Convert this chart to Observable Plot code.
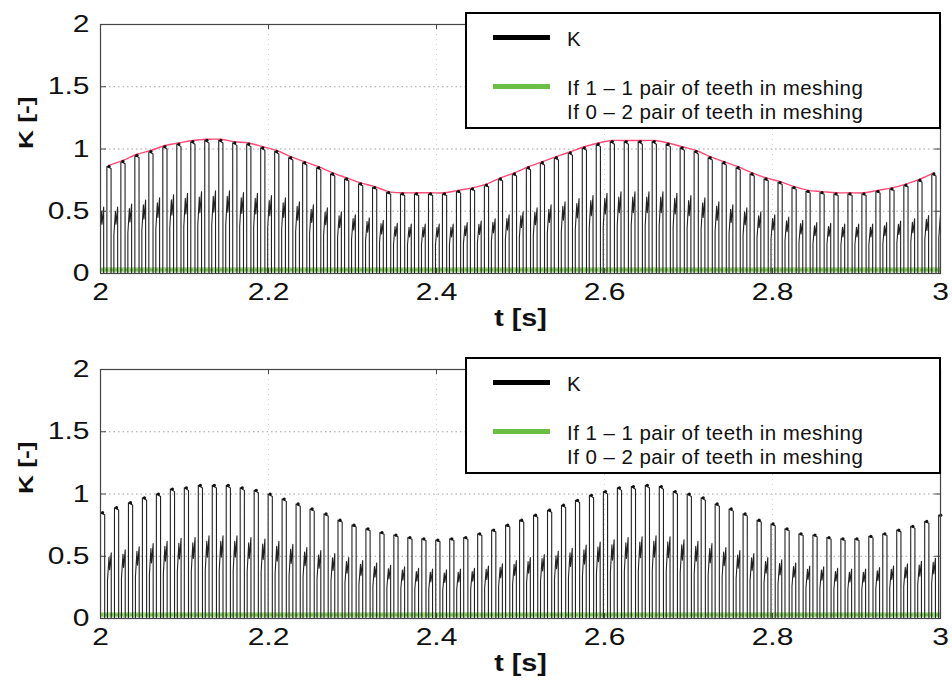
<!DOCTYPE html>
<html><head><meta charset="utf-8">
<script src="https://cdn.jsdelivr.net/npm/d3@7"></script>
<script src="https://cdn.jsdelivr.net/npm/@observablehq/plot@0.6"></script>
<style>
body{margin:0;background:#fff;font-family:"Liberation Sans",Arial,sans-serif;}
#wrap{position:relative;width:952px;height:689px;overflow:hidden;background:#fff;}
.panel{position:absolute;left:0;}
.legend{position:absolute;left:465px;width:472px;height:113px;border:2.5px solid #000;background:#fff;}
.bar{position:absolute;left:26px;width:57px;height:5px;}
.ltxt{position:absolute;left:100px;font-size:20.5px;letter-spacing:0.45px;line-height:normal;white-space:nowrap;color:#111;}
</style></head>
<body><div id="wrap"></div>
<script>
// ---- data ----
const xTicks = [2, 2.2, 2.4, 2.6, 2.8, 3];
const yTicks = [0, 0.5, 1, 1.5, 2];
const legendLabels = ["K", "If 1 \u2013 1 pair of teeth in meshing", "If 0 \u2013 2 pair of teeth in meshing"];

// top panel: peak of every tooth-mesh pulse
const topStart = 2.0076;      // first rising edge [s]
const topPeriod = 0.016645;   // mesh period [s]
const topPeaks = [
  0.86,0.90,0.95,0.98,1.02,1.04,1.06,1.07,1.07,1.05,
  1.04,1.01,0.98,0.93,0.89,0.85,0.80,0.76,0.72,0.69,
  0.65,0.64,0.64,0.64,0.64,0.66,0.68,0.71,0.76,0.80,
  0.85,0.89,0.93,0.97,1.01,1.04,1.06,1.06,1.06,1.06,
  1.04,1.01,0.98,0.93,0.89,0.85,0.80,0.76,0.73,0.69,
  0.66,0.65,0.64,0.64,0.64,0.66,0.68,0.71,0.75,0.80
];

// bottom panel
const bottomStart = 2.0;
const bottomPeriod = 0.01663;
const bottomPeaks = [
  0.85,0.89,0.93,0.97,1.00,1.04,1.05,1.07,1.07,1.07,
  1.05,1.03,1.00,0.96,0.92,0.88,0.84,0.79,0.75,0.72,
  0.69,0.67,0.65,0.64,0.63,0.64,0.65,0.68,0.71,0.75,
  0.79,0.83,0.87,0.91,0.95,0.99,1.02,1.05,1.06,1.07,
  1.06,1.02,1.00,0.97,0.92,0.88,0.84,0.79,0.76,0.72,
  0.68,0.67,0.65,0.64,0.64,0.66,0.68,0.71,0.74,0.78,0.83
];

// one mesh cycle: [phase fraction, level relative to the pulse peak]
const toothShape = [
  [0.00,0],[0.00,1],[0.30,0.98],[0.30,0],[0.50,0],[0.50,0.36],
  [0.61,0.58],[0.65,0.46],[0.77,0.62],[0.77,0]
];
const peakPhase = 0.15;
const flagLevel = 0.03;   // meshing indicator (green) level

// ---- build ----
function cycles(peaks, t0, period) {
  const pts = [];
  for (let i = -1; i <= peaks.length; i++) {
    const p = peaks[Math.max(0, Math.min(peaks.length - 1, i))];
    for (const [f, r] of toothShape) pts.push({t: t0 + (i + f) * period, k: r * p});
  }
  return pts;
}
function peakPoints(peaks, t0, period) {
  return peaks.map((v, i) => ({t: t0 + (i + peakPhase) * period, k: v}));
}
const fmt = d => `${d}`;

function panel(peaks, t0, period, envelope) {
  const pts = cycles(peaks, t0, period);
  const pk = peakPoints(peaks, t0, period);
  const marks = [
    Plot.gridY(yTicks.slice(1, -1), {stroke: "#a0a0a0", strokeOpacity: 1, strokeDasharray: "1.5,3"}),
    Plot.gridX(xTicks.slice(1, -1), {stroke: "#d0d0d0", strokeOpacity: 1, strokeDasharray: "1,4"}),
    Plot.ruleY([flagLevel], {stroke: "#a5db86", strokeWidth: 5}),
    Plot.ruleY([flagLevel], {stroke: "#6cbf45", strokeWidth: 2, strokeDasharray: "3,2"}),
    Plot.line(pts, {x: "t", y: "k", stroke: "#222", strokeWidth: 1.1, clip: true}),
  ];
  if (envelope) marks.push(Plot.line(pk, {x: "t", y: "k", stroke: "#ff4a78", strokeWidth: 1.4, curve: "catmull-rom", dy: -1}));
  marks.push(
    Plot.dot(pk, {x: "t", y: "k", r: 1.6, fill: "#111", stroke: null}),
    Plot.ruleX(xTicks, {y1: 0, y2: 0.04, stroke: "#444"}),
    Plot.ruleX(xTicks, {y1: 2, y2: 1.96, stroke: "#444"}),
    Plot.ruleY(yTicks, {x1: 2, x2: 2.007, stroke: "#444"}),
    Plot.ruleY(yTicks, {x1: 3, x2: 2.993, stroke: "#444"}),
    Plot.frame({stroke: "#444", strokeWidth: 1.2}),
    Plot.axisX({ticks: xTicks, tickSize: 0, tickPadding: 9, fontSize: 24, label: null, tickFormat: fmt}),
    Plot.axisY({ticks: yTicks, tickSize: 0, tickPadding: 11, fontSize: 24, label: null, tickFormat: fmt}),
    Plot.text(["t [s]"], {text: d => d, frameAnchor: "bottom", dy: 52, fontWeight: "bold", fontSize: 23}),
    Plot.text(["K [-]"], {text: d => d, frameAnchor: "left", dx: -74, rotate: -90, fontWeight: "bold", fontSize: 21})
  );
  return Plot.plot({
    width: 952, height: 344,
    marginLeft: 100, marginRight: 12, marginTop: 24, marginBottom: 71,
    x: {domain: [2, 3]}, y: {domain: [0, 2]},
    style: {fontFamily: "'Liberation Sans', Arial, sans-serif", color: "#111", background: "#fff", overflow: "visible"},
    marks
  });
}

function legend(top) {
  const d = document.createElement("div");
  d.className = "legend";
  d.style.top = top + "px";
  d.innerHTML =
    `<div class="bar" style="top:20.5px;background:#000"></div>` +
    `<div class="ltxt" style="top:12.5px">${legendLabels[0]}</div>` +
    `<div class="bar" style="top:70px;background:#6cbf45"></div>` +
    `<div class="ltxt" style="top:61.5px">${legendLabels[1]}</div>` +
    `<div class="ltxt" style="top:85.5px">${legendLabels[2]}</div>`;
  return d;
}

// widen glyphs like the reference's wide sans type
function widen(svg, factor) {
  svg.querySelectorAll('g[aria-label$="tick label"] text, g[aria-label="text"] text').forEach(t => {
    const w = t.getComputedTextLength();
    t.setAttribute("textLength", (w * factor).toFixed(1));
    t.setAttribute("lengthAdjust", "spacingAndGlyphs");
  });
}

const wrap = document.getElementById("wrap");
const p1 = panel(topPeaks, topStart, topPeriod, true);
p1.classList.add("panel"); p1.style.top = "0px";
const p2 = panel(bottomPeaks, bottomStart, bottomPeriod, false);
p2.classList.add("panel"); p2.style.top = "345px";
wrap.append(p1, p2, legend(12), legend(357));
widen(p1, 1.25); widen(p2, 1.25);
</script>
</body></html>
